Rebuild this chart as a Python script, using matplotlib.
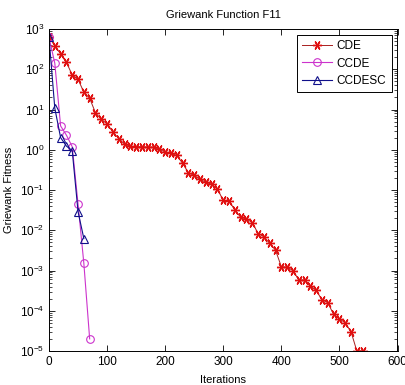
import matplotlib
matplotlib.use("Agg")
import matplotlib.pyplot as plt
import numpy as np

plt.rcParams['font.family'] = ['Liberation Sans', 'DejaVu Sans']
plt.rcParams['mathtext.fontset'] = 'custom'
plt.rcParams['mathtext.rm'] = 'Liberation Sans'

# CDE, every 10 iterations
cde_iter = [0, 10, 20, 30, 40, 50, 60, 70, 80, 90,
            100, 110, 120, 130, 140, 150, 160, 170, 180, 190,
            200, 210, 220, 230, 240, 250, 260, 270, 280, 290,
            300, 310, 320, 330, 340, 350, 360, 370, 380, 390,
            400, 410, 420, 430, 440, 450, 460, 470, 480, 490,
            500, 510, 520, 530, 540]
cde_fit = [640, 380, 240, 148, 72, 56, 27, 19, 8.3, 5.7,
           4.4, 2.75, 1.9, 1.38, 1.23, 1.19, 1.19, 1.16, 1.16, 1.02,
           0.88, 0.81, 0.72, 0.46, 0.27, 0.23, 0.185, 0.155, 0.14, 0.104,
           0.056, 0.053, 0.032, 0.021, 0.019, 0.0155, 0.0083, 0.0069, 0.0047, 0.0032,
           0.00124, 0.0012, 0.001, 0.00058, 0.00058, 0.00041, 0.00032, 0.000186, 0.000159, 8.1e-5,
           6.3e-5, 5.0e-5, 3.0e-5, 1.0e-5, 1.0e-5]

ccde_iter = [0, 10, 20, 30, 40, 50, 60, 70]
ccde_fit = [620, 140, 3.9, 2.3, 1.19, 0.045, 0.0015, 2.0e-5]

ccdesc_iter = [0, 10, 20, 30, 40, 50, 60]
ccdesc_fit = [620, 10.7, 2.0, 1.23, 0.95, 0.029, 0.0062]

fig = plt.figure(figsize=(4.06, 3.85), dpi=100)
ax = fig.add_axes([49/406., 1-351/385., (397.5-49)/406., (351-29)/385.])

# matlab style asterisk
star = (6, 2, 90)
l1, = ax.semilogy(cde_iter, cde_fit, '-', color='#a82020', lw=0.7,
                  marker=star, ms=6.5, mfc='#e01010', mec='#e01010', mew=1.0)
l2, = ax.semilogy(ccde_iter, ccde_fit, '-', color='#cc33cc', lw=0.8,
                  marker='o', ms=5.5, mfc='none', mec='#cc33cc', mew=0.8)
l3, = ax.semilogy(ccdesc_iter, ccdesc_fit, '-', color='#10108a', lw=0.8,
                  marker='^', ms=5.5, mfc='none', mec='#10108a', mew=0.8)

ax.set_xlim(0, 600)
ax.set_ylim(1e-5, 1e3)
ax.set_xticks([0, 100, 200, 300, 400, 500, 600])
ax.set_yticks([1e-5, 1e-4, 1e-3, 1e-2, 1e-1, 1e0, 1e1, 1e2, 1e3])
ax.tick_params(which='both', direction='in', top=True, right=True, labelsize=8.5)
ax.tick_params(which='major', length=4, width=0.6)
ax.tick_params(which='minor', length=2, width=0.5)
for s in ax.spines.values():
    s.set_linewidth(0.7)

ax.set_title('Griewank Function F11', fontsize=8, pad=8)
ax.set_xlabel('Iterations', fontsize=8, labelpad=5)
ax.set_ylabel('Griewank Fitness', fontsize=8, labelpad=4)

leg = ax.legend([l1, l2, l3], ['CDE', 'CCDE', 'CCDESC'], loc='upper right',
                fontsize=8.5, handlelength=2.5, borderaxespad=0.5,
                fancybox=False, framealpha=1, edgecolor='black',
                labelspacing=0.45, borderpad=0.45, handletextpad=0.4)
leg.get_frame().set_linewidth(0.7)

fig.savefig('out.png', dpi=100)
